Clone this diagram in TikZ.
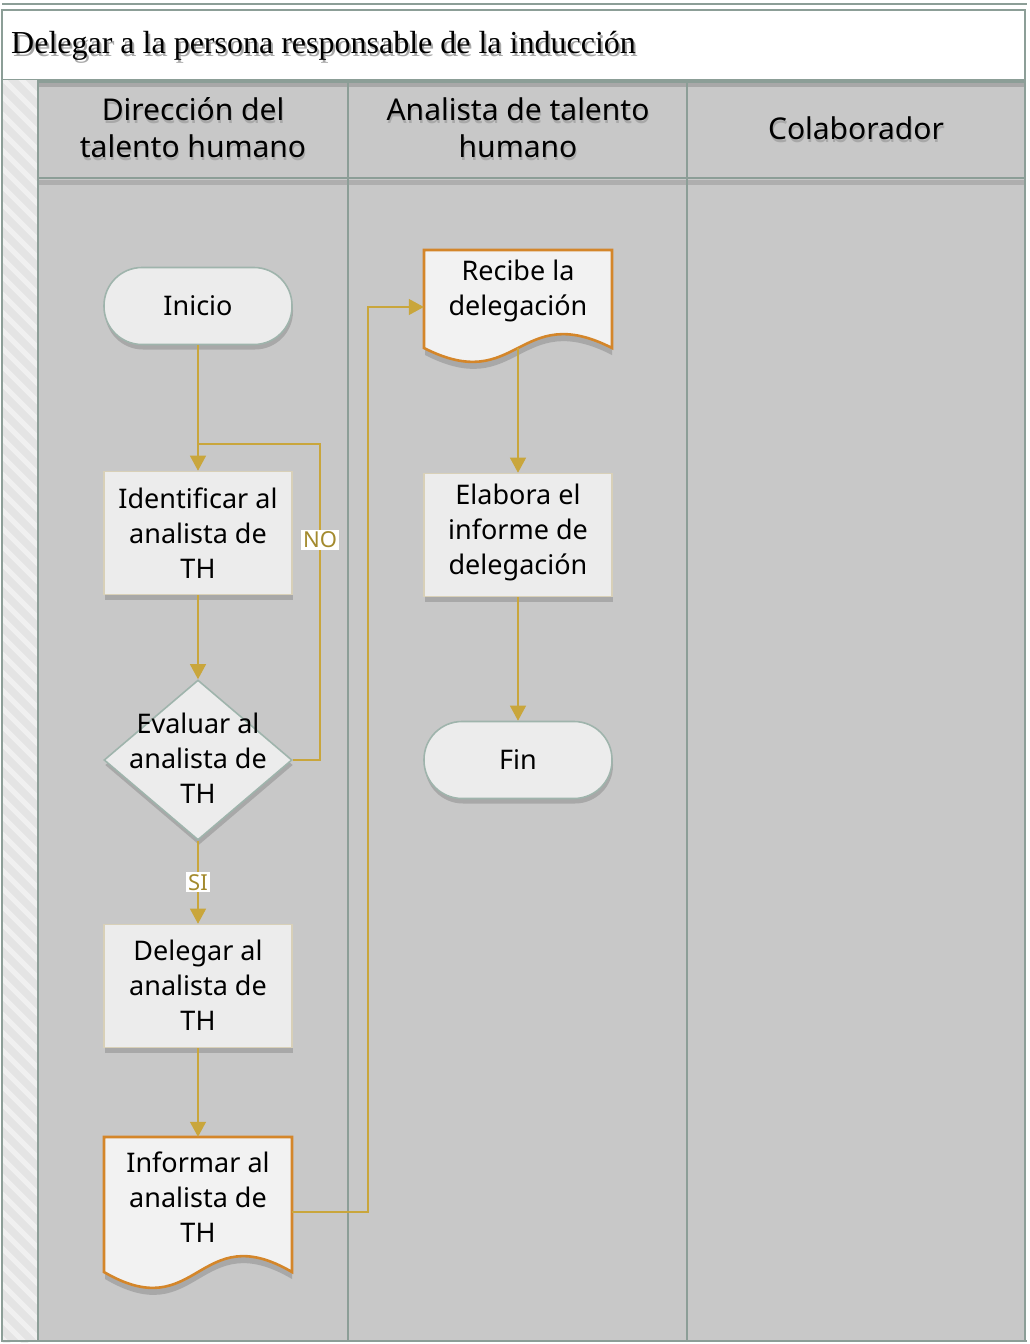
\documentclass[tikz,border=0pt]{standalone}
\usepackage{fontspec}
\setmainfont{Noto Sans}
\newfontfamily\titlefont{Liberation Serif}
\usetikzlibrary{shapes.geometric,arrows.meta,shadows,calc}

\definecolor{framecol}{HTML}{8C9E97}
\definecolor{lanebg}{HTML}{C8C8C8}
\definecolor{stripbg}{HTML}{E4E4E4}
\definecolor{nodefill}{HTML}{ECECEC}
\definecolor{procborder}{HTML}{D8D0B8}
\definecolor{termborder}{HTML}{9FB4AC}
\definecolor{docborder}{HTML}{D4862A}
\definecolor{docfill}{HTML}{F2F2F2}
\definecolor{conncol}{HTML}{C9A63C}
\definecolor{labelcol}{HTML}{A38A2E}
\definecolor{shadecol}{HTML}{A8A8A8}

\newcommand\nodefont{\fontsize{27}{35}\selectfont}
\newcommand\headfont{\fontsize{30}{37}\selectfont}
\newcommand\ttlfont{\titlefont\fontsize{32}{34}\selectfont}

% document shape with wavy bottom: left, top, right, bottom-edge y, wave depth
\newcommand\docpath[5]{(#1,#2) -- (#3,#2) -- (#3,#4)
  .. controls ({(#1+#3)/2},#4-#5) and ({(#1+#3)/2},#4+#5) .. (#1,#4) -- cycle}

\begin{document}
\begin{tikzpicture}[x=1pt,y=-1pt,
  frame/.style={draw=framecol,line width=2.2pt},
  boxshadow/.style={drop shadow={shadow xshift=1pt,shadow yshift=-5pt,fill=shadecol,opacity=1}},
  proc/.style={rectangle,draw=procborder,line width=1.6pt,fill=nodefill,
    minimum width=188pt,minimum height=123pt,inner sep=0pt,boxshadow},
  term/.style={rectangle,rounded corners=38pt,draw=termborder,line width=1.6pt,fill=nodefill,
    minimum width=188pt,minimum height=77pt,inner sep=0pt,boxshadow},
  decision/.style={diamond,draw=termborder,line width=1.6pt,fill=nodefill,
    minimum width=188pt,minimum height=160pt,inner sep=0pt,boxshadow},
  anchorbox/.style={rectangle,draw=none,fill=none,inner sep=0pt,minimum width=188pt},
  txt/.style={align=center,font=\nodefont,inner sep=0pt},
  head/.style={align=center,font=\headfont,inner sep=0pt},
  conn/.style={draw=conncol,line width=1.2pt,-{Triangle[width=16pt,length=15pt]}},
  connline/.style={draw=conncol,line width=1.2pt},
  lbl/.style={fill=white,text=labelcol,font=\fontsize{22}{24}\selectfont,inner sep=2pt}
]
\useasboundingbox (0,0) rectangle (1029,1344);
\fill[white] (0,0) rectangle (1029,1344);

% ---------- title ----------
\draw[frame,line width=1.6pt] (2,4) -- (1027,4);
\draw[frame,fill=white] (2,10) rectangle (1025,80);
\node[anchor=west,inner sep=0pt,text=shadecol,font=\ttlfont] at (13,49) {Delegar a la persona responsable de la inducción};
\node[anchor=west,inner sep=0pt,font=\ttlfont] (title) at (11,46) {Delegar a la persona responsable de la inducción};

% ---------- left strip ----------
\fill[stripbg] (2,80) rectangle (38,1342);
\begin{scope}
  \clip (2,80) rectangle (38,1342);
  \foreach \i in {40,58,...,1340}
    \draw[white!45!stripbg,line width=5pt] (0,\i) -- (40,\i+40);
\end{scope}

% ---------- lanes ----------
\fill[lanebg] (38,82) rectangle (1025,1340);
\fill[shadecol] (38,83) rectangle (1025,87);
\fill[shadecol!80!lanebg] (38,180) rectangle (1025,185);
\draw[frame] (38,82) -- (1025,82);
\draw[frame] (38,178) -- (1025,178);
\draw[frame] (38,80) -- (38,1342);
\draw[frame] (348,82) -- (348,1342);
\draw[frame] (687,82) -- (687,1342);
\draw[frame] (1025,80) -- (1025,1342);
\draw[frame] (2,80) -- (2,1342);
\draw[frame] (2,1341) -- (1027,1341);

% lane headers
\foreach \x/\t in {193/{Dirección del\\talento humano},518/{Analista de talento\\humano},856/{Colaborador}}{
  \node[head,text=shadecol] at (\x+1,131) {\t};
  \node[head] at (\x,128) {\t};
}

% ---------- nodes ----------
\node[term] (ini) at (198,306) {};
\node[txt] at (ini) {Inicio};

\node[proc] (ida) at (198,533) {};
\node[txt] at (ida) {Identificar al\\analista de\\TH};

\node[decision] (eva) at (198,760) {};
\node[txt] at (198,758) {Evaluar al\\analista de\\TH};

\node[proc] (del) at (198,986) {};
\node[txt] at (198,985) {Delegar al\\analista de\\TH};

% document: Informar
\fill[shadecol] [shift={(0,7)}] \docpath{105}{1137}{292}{1272}{55};
\draw[draw=docborder,fill=docfill,line width=2.6pt] \docpath{104}{1137}{292}{1272}{55};
\node[anchorbox,minimum height=150pt] (inf) at (198,1212) {};
\node[txt] at (198,1197) {Informar al\\analista de\\TH};

% document: Recibe
\fill[shadecol] [shift={(0,7)}] \docpath{425}{250}{612}{348}{48};
\draw[draw=docborder,fill=docfill,line width=2.6pt] \docpath{424}{250}{612}{348}{48};
\node[anchorbox,minimum height=114pt] (rec) at (518,307) {};
\node[txt] at (518,291) {Recibe la\\delegación};
\coordinate (recb) at (518,348);

\node[proc] (ela) at (518,535) {};
\node[txt] at (518,532) {Elabora el\\informe de\\delegación};

\node[term] (fin) at (518,760) {};
\node[txt] at (fin) {Fin};

% ---------- connectors ----------
\coordinate (join) at (198,444);
\coordinate (noup) at (320,444);
\coordinate (upr) at (368,307);

\draw[conn] (ini) -- (ida);
\draw[conn] (ida) -- (eva);
\draw[connline] (eva.east) -| (noup) -- (join);
\node[lbl] at (320,540) {NO};
\draw[conn] (eva) -- node[lbl,pos=0.5] {SI} (del);
\draw[conn] (del) -- (inf.north);
\draw[conn] (inf.east) -| (upr) -- (rec.west);
\draw[conn] (recb) -- (ela);
\draw[conn] (ela) -- (fin);
\end{tikzpicture}
\end{document}
